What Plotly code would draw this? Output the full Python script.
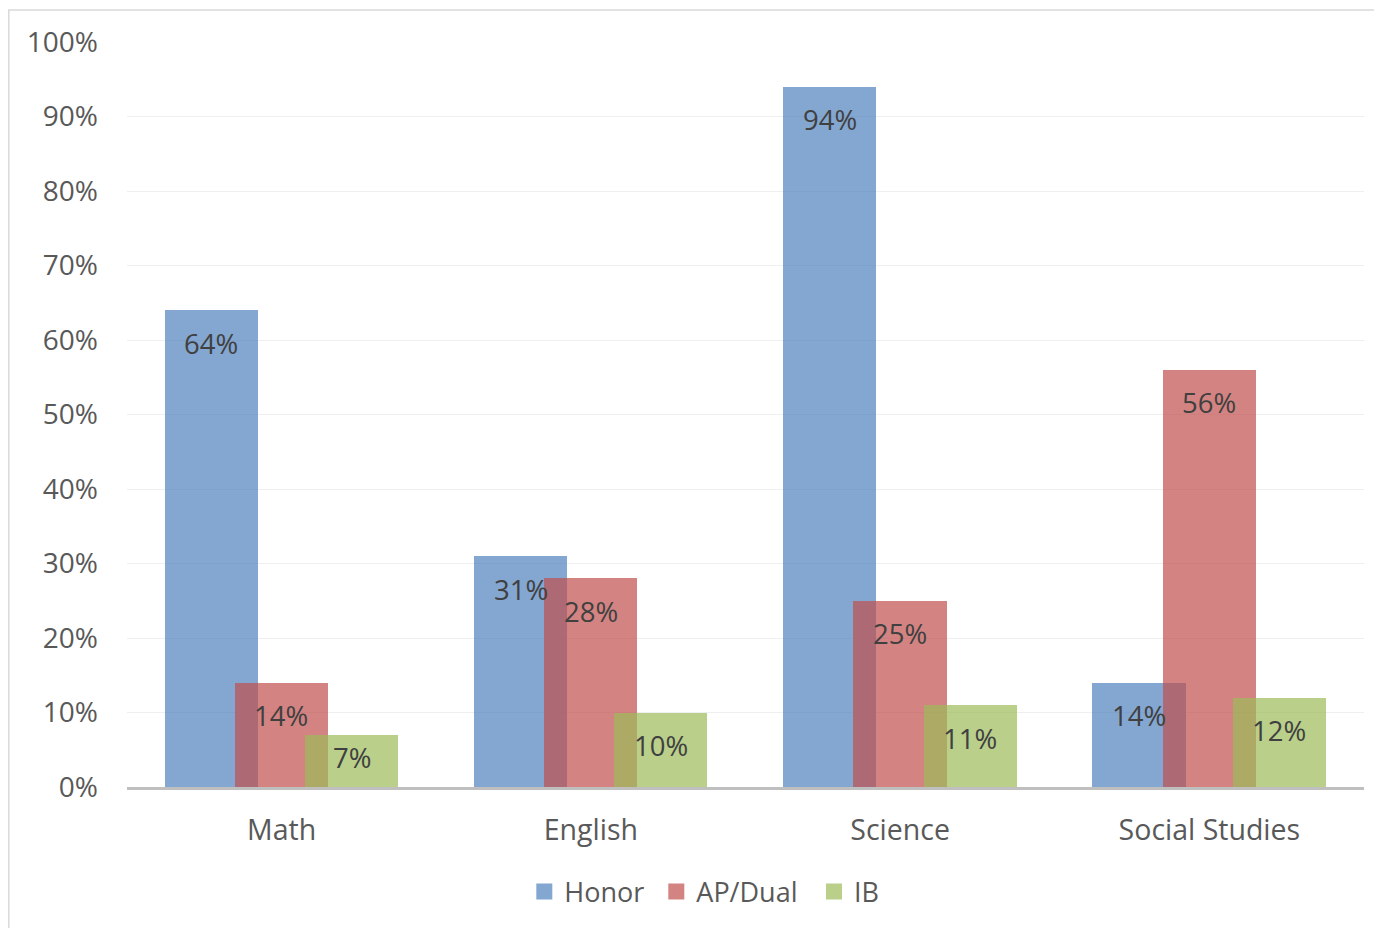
import plotly.graph_objects as go

categories = ["Math", "English", "Science", "Social Studies"]
series_names = ["Honor", "AP/Dual", "IB"]
honor = [64, 31, 94, 14]
ap_dual = [14, 28, 25, 56]
ib = [7, 10, 11, 12]
y_ticks = [0, 10, 20, 30, 40, 50, 60, 70, 80, 90, 100]

series_values = [honor, ap_dual, ib]
colors = ["rgba(79,129,189,0.7)", "rgba(192,80,77,0.7)", "rgba(155,187,89,0.7)"]
offsets = [-0.378, -0.151, 0.076]
bar_w = 0.301
FONT = "Open Sans"

W, H = 1374, 920
L, T, R, B = 119, 34, 18, 141
pw, ph = W - L - R, H - T - B
px_per_unit = ph / 100.0

xs = list(range(len(categories)))
fig = go.Figure()
for name, vals, col, off in zip(series_names, series_values, colors, offsets):
    fig.add_trace(go.Bar(
        x=xs, y=vals, name=name, offset=off, width=bar_w,
        marker=dict(color=col, line=dict(width=0)),
        hoverinfo="skip", showlegend=False,
    ))
# legend entries with larger square swatches (trailing spaces only widen item spacing)
legend_pad = [" ", " \u2009", ""]
for name, pad, col in zip(series_names, legend_pad, colors):
    fig.add_trace(go.Scatter(
        x=[None], y=[None], mode="markers", name=name + pad,
        marker=dict(symbol="square", size=17, color=col, line=dict(width=0)),
    ))

annotations = []
for vals, off in zip(series_values, offsets):
    for xi, v in zip(xs, vals):
        shift = min(33, v * px_per_unit - 30)
        annotations.append(dict(
            x=xi + off + bar_w / 2, y=v, xref="x", yref="y",
            text=f"{v}%", showarrow=False, yanchor="middle", yshift=-shift,
            font=dict(family=FONT, size=27.5, color="#404040"),
        ))

fig.update_layout(
    width=W, height=H,
    margin=dict(l=L, r=R, t=T, b=B),
    paper_bgcolor="white", plot_bgcolor="white",
    barmode="overlay",
    bargap=0,
    annotations=annotations,
    showlegend=True,
    legend=dict(
        orientation="h", x=0.4667, xanchor="center", y=-0.108, yanchor="top",
        font=dict(family=FONT, size=27, color="#595959"),
        traceorder="normal", itemclick=False,
    ),
    shapes=[dict(
        type="rect", xref="paper", yref="paper",
        x0=(0.8 - L) / pw, x1=1.2, y0=-0.4, y1=1 + (T - 2) / ph,
        line=dict(color="#D9D9D9", width=1.5), fillcolor="rgba(0,0,0,0)", layer="below",
    )],
    xaxis=dict(
        range=[-0.5, len(categories) - 0.5],
        tickvals=xs, ticktext=categories,
        showgrid=False, zeroline=False,
        showline=True, linecolor="#BFBFBF", linewidth=3,
        ticks="", ticklabelstandoff=16,
        tickfont=dict(family=FONT, size=28.5, color="#595959"),
        fixedrange=True,
    ),
    yaxis=dict(
        range=[0, 100], tickvals=y_ticks, ticktext=[f"{t}%" for t in y_ticks],
        showgrid=True, gridcolor="#EFEFEF", gridwidth=1,
        zeroline=False, showline=False, ticks="",
        ticklabelstandoff=28,
        tickfont=dict(family=FONT, size=28, color="#595959"),
        fixedrange=True,
    ),
)

fig.write_html("out.html")
